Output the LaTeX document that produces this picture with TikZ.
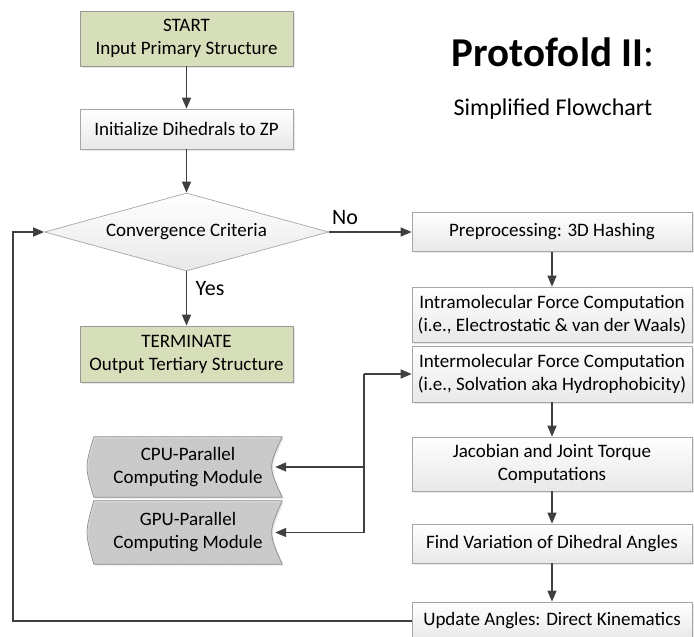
\documentclass[tikz,border=0pt]{standalone}
\usepackage{fontspec}
\setmainfont{Carlito}
\usetikzlibrary{shapes.geometric,arrows.meta,shadows,patterns,backgrounds}
\definecolor{startgreen}{RGB}{215,222,186}
\definecolor{arrowgray}{RGB}{64,64,64}

\begin{document}
\begin{tikzpicture}[x=1pt,y=-1pt,>={Triangle[length=11pt,width=9pt]},
  font=\fontsize{19}{23}\selectfont,
  every edge/.style={draw=arrowgray,line width=1.5pt},
  flow/.style={draw=arrowgray,line width=1.5pt},
  box/.style={rectangle,draw=black!35,line width=0.7pt,top color=white,bottom color=black!9,
    drop shadow={shadow xshift=1.5pt,shadow yshift=-1.5pt,opacity=0.2},align=center,inner sep=0pt},
  leftbox/.style={box,minimum width=213pt},
  rightbox/.style={box,minimum width=280pt},
  startbox/.style={leftbox,top color=startgreen,bottom color=startgreen,draw=black!40},
  decision/.style={diamond,draw=black!35,line width=0.7pt,top color=white,bottom color=black!9,
    aspect=3.64,inner sep=0pt,minimum width=284pt,minimum height=78pt},
  modulebox/.style={minimum width=188pt,align=center,inner sep=0pt},
  module/.style={draw=black!45,line width=0.7pt,preaction={fill=black!14},pattern=north east lines,
    pattern color=black!19,drop shadow={shadow xshift=1.5pt,shadow yshift=-1.5pt,opacity=0.2}},
  lbl/.style={font=\fontsize{22}{26}\selectfont}]
\useasboundingbox (0,0) rectangle (694,637);

% left column
\node[startbox,minimum height=55pt] (start) at (186.5,38.5) {START\\Input Primary Structure};
\node[leftbox,minimum height=40pt] (init) at (186.5,129) {Initialize Dihedrals to ZP};
\node[decision] (conv) at (186.5,232) {Convergence Criteria};
\node[startbox,minimum height=56pt] (term) at (186.5,354) {TERMINATE\\Output Tertiary Structure};

% right column
\node[rightbox,minimum height=39pt] (prep) at (552,232) {Preprocessing: 3D Hashing};
\node[rightbox,minimum height=55pt] (intra) at (552,314.5) {Intramolecular Force Computation\\(i.e., Electrostatic \& van der Waals)};
\node[rightbox,minimum height=56pt] (inter) at (552,374) {Intermolecular Force Computation\\(i.e., Solvation aka Hydrophobicity)};
\node[rightbox,minimum height=54pt] (jac) at (552,464) {Jacobian and Joint Torque\\Computations};
\node[rightbox,minimum height=39pt] (find) at (552,543.5) {Find Variation of Dihedral Angles};
\node[rightbox,minimum height=38pt] (upd) at (552,621) {Update Angles: Direct Kinematics};

% parallel modules
\node[modulebox,minimum height=60pt] (cpu) at (188,467) {CPU-Parallel\\Computing Module};
\node[modulebox,minimum height=63pt] (gpu) at (188,532.5) {GPU-Parallel\\Computing Module};
\begin{scope}[on background layer]
\foreach \m in {cpu,gpu}
  \draw[module] (\m.north west) .. controls ([xshift=-9pt]\m.west) .. (\m.south west) -- (\m.south east)
    .. controls ([xshift=-14pt]\m.east) .. (\m.north east) -- cycle;
\end{scope}

% title
\node[font=\fontsize{41}{49}\selectfont,anchor=base] (title) at (553,66) {\textbf{Protofold II}:};
\node[font=\fontsize{24}{29}\selectfont,anchor=base] (subtitle) at (553,115) {Simplified Flowchart};

\node[lbl,anchor=base] (no) at (345,224) {No};
\node[lbl,anchor=base] (yes) at (210,295) {Yes};

\coordinate (back) at (13,400);
\coordinate (split) at (364,374);

\path[->] (start) edge (init)
(init) edge (conv)
(conv) edge (term)
(conv) edge (prep)
(prep) edge (intra)
(inter) edge (jac)
(jac) edge (find)
(find) edge (upd);

\draw[flow,->] (upd.west) -| (back) |- (conv.west);
\draw[flow,->] (split) -- (inter.west);
\draw[flow,->] (split) |- ([xshift=-7pt]cpu.east);
\draw[flow,->] (split) |- ([xshift=-7pt]gpu.east);
\end{tikzpicture}
\end{document}
